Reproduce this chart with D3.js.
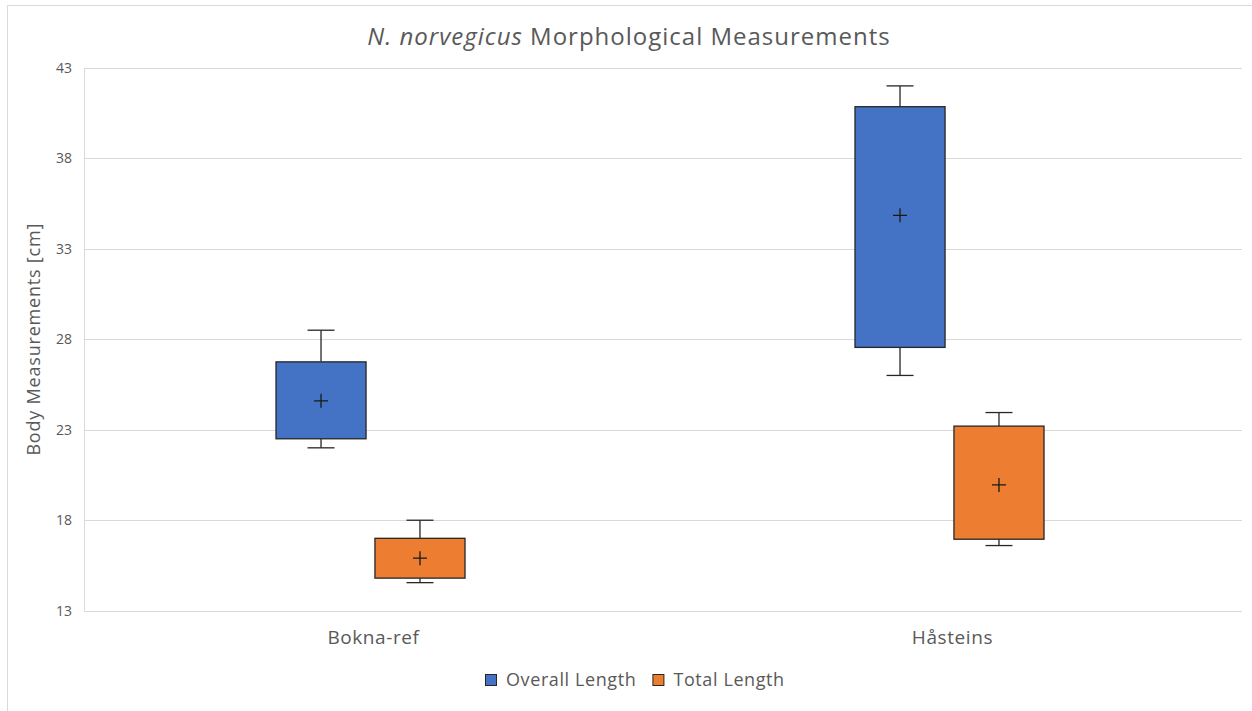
<!DOCTYPE html>
<html><head><meta charset="utf-8">
<script src="https://cdn.jsdelivr.net/npm/d3@7"></script>
<style>
html,body{margin:0;padding:0;background:#fff;}
svg{display:block;font-family:"Open Sans","Noto Sans",sans-serif;}
</style></head>
<body><svg id="c" width="1252" height="711"></svg>
<script>
const categories = ["Bokna-ref", "Håsteins"];
const seriesNames = ["Overall Length", "Total Length"];
const yTicks = [13, 18, 23, 28, 33, 38, 43];
// per-category values, [Bokna-ref, Håsteins]
const overallMin  = [22.0, 26.0];
const overallQ1   = [22.5, 27.55];
const overallQ3   = [26.75, 40.85];
const overallMax  = [28.5, 42.0];
const overallMean = [24.6, 34.85];
const totalMin  = [14.55, 16.6];
const totalQ1   = [14.8, 16.95];
const totalQ3   = [17.0, 23.2];
const totalMax  = [18.0, 23.95];
const totalMean = [15.9, 19.95];
const colors = ["#4472C4", "#ED7D31"];

const seriesData = [
  {name: seriesNames[0], min: overallMin, q1: overallQ1, q3: overallQ3, max: overallMax, mean: overallMean},
  {name: seriesNames[1], min: totalMin, q1: totalQ1, q3: totalQ3, max: totalMax, mean: totalMean}
];

const svg = d3.select("#c");
const L = 84, R = 1242, T = 67.8, B = 610.7;
const textColor = "#595959";
const stroke = "#262626";

// chart border
svg.append("rect").attr("x", 7.5).attr("y", 5.5).attr("width", 1260).attr("height", 720)
  .attr("fill", "none").attr("stroke", "#d9d9d9").attr("stroke-width", 1);

const y = d3.scaleLinear().domain([13, 43]).range([B, T]);
const x0 = d3.scaleBand().domain(categories).range([L, R]).padding(0);
const groupW = 189;
const x1 = d3.scaleBand().domain(seriesNames)
  .range([(x0.bandwidth() - groupW) / 2 - 3, (x0.bandwidth() + groupW) / 2 - 3]).paddingInner(0.09);

// gridlines
svg.append("g").selectAll("line").data(yTicks).join("line")
  .attr("x1", L).attr("x2", R)
  .attr("y1", d => Math.round(y(d)) + 0.5).attr("y2", d => Math.round(y(d)) + 0.5)
  .attr("stroke", "#d9d9d9").attr("stroke-width", 1);
svg.append("line").attr("x1", L + 0.5).attr("x2", L + 0.5).attr("y1", y(43)).attr("y2", y(13))
  .attr("stroke", "#d9d9d9");

// y axis labels
const yAxis = d3.axisLeft(y).tickValues(yTicks).tickSize(0).tickPadding(12);
const gy = svg.append("g").attr("transform", `translate(${L},0)`).call(yAxis);
gy.select(".domain").remove();
gy.selectAll("text").attr("font-family", "'Open Sans','Noto Sans',sans-serif")
  .attr("font-size", 14).attr("fill", textColor);

// x axis labels
const xAxis = d3.axisBottom(x0).tickSize(0).tickPadding(20);
const gx = svg.append("g").attr("transform", `translate(0,${B})`).call(xAxis);
gx.select(".domain").remove();
gx.selectAll("text").attr("font-family", "'Open Sans','Noto Sans',sans-serif")
  .attr("font-size", 19).attr("letter-spacing", 0.6).attr("fill", textColor);

// boxes
seriesData.forEach((s, si) => {
  const g = svg.append("g");
  categories.forEach((c, ci) => {
    const bx = x0(c) + x1(s.name);
    const bw = x1.bandwidth();
    const cx = bx + bw / 2;
    const capW = 27;
    const vMin = s.min[ci], vQ1 = s.q1[ci], vQ3 = s.q3[ci], vMax = s.max[ci], vMean = s.mean[ci];
    const ln = (ax, ay, bx2, by) => g.append("line").attr("x1", ax).attr("y1", ay).attr("x2", bx2).attr("y2", by)
      .attr("stroke", stroke).attr("stroke-width", 1.3);
    ln(cx, y(vMax), cx, y(vQ3));
    ln(cx, y(vQ1), cx, y(vMin));
    ln(cx - capW / 2, y(vMax), cx + capW / 2, y(vMax));
    ln(cx - capW / 2, y(vMin), cx + capW / 2, y(vMin));
    g.append("rect").attr("x", bx).attr("y", y(vQ3)).attr("width", bw).attr("height", y(vQ1) - y(vQ3))
      .attr("fill", colors[si]).attr("stroke", stroke).attr("stroke-width", 1.3);
    const my = y(vMean);
    g.append("path").attr("d", `M${cx - 7},${my}H${cx + 7}M${cx},${my - 7}V${my + 7}`)
      .attr("stroke", "#1a1a1a").attr("stroke-width", 1.3).attr("fill", "none");
  });
});

// title
const title = svg.append("text").attr("x", 629).attr("y", 45).attr("text-anchor", "middle")
  .attr("font-size", 24).attr("letter-spacing", 1).attr("fill", textColor);
title.append("tspan").attr("font-style", "italic").text("N. norvegicus");
title.append("tspan").text(" Morphological Measurements");

// y axis title
svg.append("text").attr("transform", `translate(40,${(T + B) / 2}) rotate(-90)`)
  .attr("text-anchor", "middle").attr("font-size", 18).attr("letter-spacing", 0.8).attr("fill", textColor)
  .text("Body Measurements [cm]");

// legend
const legend = svg.append("g").attr("transform", "translate(485,674)");
let lx = 0;
seriesNames.forEach((n, i) => {
  const item = legend.append("g").attr("transform", `translate(${lx},0)`);
  item.append("rect").attr("x", 0.5).attr("y", 0.5).attr("width", 11).attr("height", 11)
    .attr("fill", colors[i]).attr("stroke", stroke).attr("stroke-width", 1);
  const t = item.append("text").attr("x", 21).attr("y", 12).attr("font-size", 18)
    .attr("letter-spacing", 0.6).attr("fill", textColor).text(n);
  lx += 21 + t.node().getComputedTextLength() + 16;
});
</script></body></html>
